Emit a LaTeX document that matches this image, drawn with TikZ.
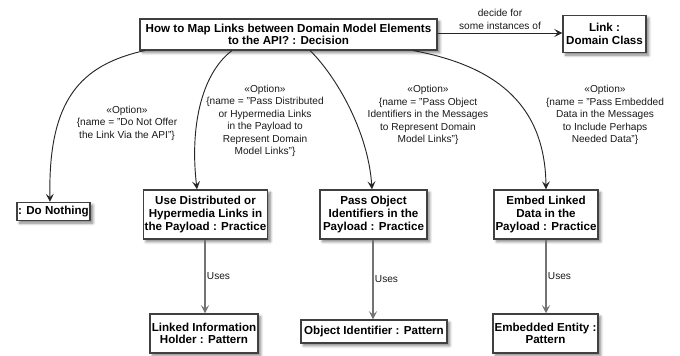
\documentclass[tikz,border=0pt]{standalone}
\usepackage{fontspec}
\setmainfont{Liberation Sans}
\usetikzlibrary{arrows.meta,shadows.blur}
\begin{document}
\begin{tikzpicture}[x=0.75pt,y=-0.75pt,
  box/.style={draw=black!75,line width=1.1pt,fill=white,align=center,inner sep=1pt,
    font=\fontsize{8.7}{9.4}\selectfont\bfseries,
    blur shadow={shadow xshift=2pt,shadow yshift=-2pt,shadow blur steps=6,shadow blur radius=2pt,shadow opacity=50}},
  conn/.style={draw=black!85,line width=0.7pt,-{Stealth[length=6pt,width=6pt,inset=2.5pt]}},
  uses/.style={draw=black!55,line width=0.9pt,-{Stealth[length=6pt,width=6pt,inset=2.5pt]}},
  lbl/.style={align=center,font=\fontsize{7.6}{9.4}\selectfont,inner sep=0pt,text=black!90}]
\useasboundingbox (0,0) rectangle (680,356);
\node[box,minimum width=297*0.75pt,minimum height=31*0.75pt] (dec) at (288.5,34.5) {How to Map Links between Domain Model Elements\\to the API? : Decision};
\node[box,minimum width=83*0.75pt,minimum height=37*0.75pt] (link) at (604.5,34) {Link :\\Domain Class};
\node[box,minimum width=73*0.75pt,minimum height=18*0.75pt] (nothing) at (53.5,211.5) {: Do Nothing};
\node[box,minimum width=123*0.75pt,minimum height=49*0.75pt] (dist) at (205.5,214.5) {Use Distributed or\\Hypermedia Links in\\the Payload : Practice};
\node[box,minimum width=107*0.75pt,minimum height=49*0.75pt] (obj) at (373.5,214.5) {Pass Object\\Identifiers in the\\Payload : Practice};
\node[box,minimum width=104*0.75pt,minimum height=49*0.75pt] (emb) at (546,214.5) {Embed Linked\\Data in the\\Payload : Practice};
\node[box,minimum width=108*0.75pt,minimum height=39*0.75pt] (lih) at (204,333.5) {Linked Information\\Holder : Pattern};
\node[box,minimum width=146*0.75pt,minimum height=23*0.75pt] (oid) at (374,331.5) {Object Identifier : Pattern};
\node[box,minimum width=105*0.75pt,minimum height=39*0.75pt] (ee) at (545.5,333.5) {Embedded Entity :\\Pattern};

\draw[conn] (dec.east|-0,33) -- node[lbl,above=2.5pt] {decide for\\some instances of} (link.west|-0,33);

\coordinate (d1) at (145,50.5);
\coordinate (d2) at (232,50.5);
\coordinate (d3) at (310,50.5);
\coordinate (d4) at (413,50.5);
\draw[conn] (d1) .. controls (80,65) and (48,100) .. (nothing.north-|50,0);
\draw[conn] (d2) .. controls (200,75) and (190,130) .. (dist.north-|197,0);
\draw[conn] (d3) .. controls (335,75) and (368,130) .. (obj.north-|372,0);
\draw[conn] (d4) .. controls (490,65) and (545,100) .. (emb.north-|546,0);

\node[lbl] (o1) at (127,123) {«Option»\\\{name = "Do Not Offer\\the Link Via the API"\}};
\node[lbl] (o2) at (265,121) {«Option»\\\{name = "Pass Distributed\\or Hypermedia Links\\in the Payload to\\Represent Domain\\Model Links"\}};
\node[lbl] (o3) at (428,115) {«Option»\\\{name = "Pass Object\\Identifiers in the Messages\\to Represent Domain\\Model Links"\}};
\node[lbl] (o4) at (605,115) {«Option»\\\{name = "Pass Embedded\\Data in the Messages\\to Include Perhaps\\Needed Data"\}};

\draw[uses] (dist.south-|205,0) -- node[lbl,right=1pt] {Uses} (lih.north-|205,0);
\draw[uses] (obj.south-|373,0) -- node[lbl,right=1pt] {Uses} (oid.north-|373,0);
\draw[uses] (emb.south-|546,0) -- node[lbl,right=1pt] {Uses} (ee.north-|546,0);
\end{tikzpicture}
\end{document}
